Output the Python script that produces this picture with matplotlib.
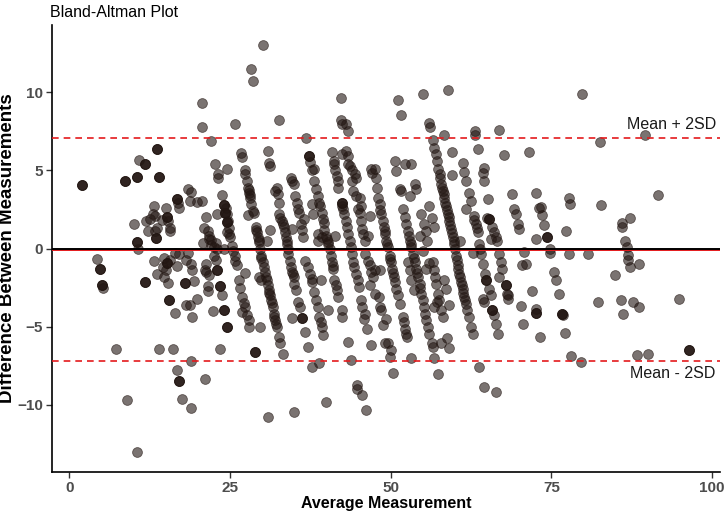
import numpy as np
import matplotlib
matplotlib.use("Agg")
import matplotlib.pyplot as plt

plt.rcParams['font.family'] = ['Liberation Sans', 'DejaVu Sans']

avg = [
    # low averages
    2.0, 8.6, 10.5, 10.9, 11.7, 13.7, 13.9, 20.7, 20.7, 22.0, 22.7, 24.5, 23.1, 23.2, 18.4, 19.0,
    16.7, 16.9, 17.1, 18.7, 19.8, 20.7, 23.7, 24.0, 24.2, 24.6, 22.9, 21.2, 13.1, 15.0, 13.0, 13.3,
    14.4, 15.2, 15.4, 10.0, 12.0, 12.5, 12.3, 13.6, 13.4, 15.6, 15.7, 13.5, 10.5, 20.9, 21.5, 21.8,
    22.0, 20.8, 22.8, 24.5, 10.7, 4.3, 4.7, 5.1, 5.3, 11.8, 13.2, 14.7, 15.2, 15.7, 14.5, 15.0,
    13.7, 14.7, 15.4, 16.4, 17.1, 18.4, 18.1, 16.8, 18.9, 19.1, 18.0, 19.4, 15.5, 16.4, 18.1, 18.8,
    19.9, 19.1, 7.3, 13.9, 16.1, 18.9, 16.7, 17.1, 21.1, 8.9, 17.6, 18.9, 10.5, 23.5, 21.2, 21.1,
    21.7, 21.6, 21.6, 23.4, 23.7, 22.4, 24.1, 24.6, 21.8, 22.0, 22.5, 22.8, 23.0, 24.0, 22.9, 21.2,
    22.5,
    # upper scatter 25-48
    30.2, 28.2, 28.6, 25.8, 32.7, 36.8, 42.2, 42.2, 42.4, 43.0, 43.3, 26.7, 26.9, 30.9, 31.1, 31.3,
    37.35, 37.5, 37.8, 40.8, 41.2, 42.4, 43.1, 43.3, 43.65, 47.0, 47.16,
    # band near 29.7
    27.29, 27.40, 27.65, 27.81, 28.02, 28.17, 28.32, 28.53, 28.69, 27.76, 29.05, 29.2, 29.36, 29.56,
    29.72, 29.87, 30.08, 30.29, 30.49, 30.75, 30.9, 31.0, 31.27, 31.42, 31.63, 31.83, 32.04, 32.3,
    32.56, 32.81, 29.72, 28.84, 33.17, 30.6, 31.1, 31.5, 31.9, 32.2, 27.95, 28.1, 29.1, 29.45, 29.9,
    # band near 25.3
    24.3, 24.56, 24.71, 24.92, 25.07, 25.33, 25.44, 25.74, 25.85, 26.1, 24.9,
    27.4, 26.47, 26.62, 26.88, 27.14, 27.4, 26.88, 27.65, 27.91, 27.91, 29.56, 29.87, 30.75, 31.27,
    34.62,
    # band near 34.1
    32.56, 32.81, 33.07, 33.33, 33.48, 33.69, 33.9, 34.1, 34.36, 34.52, 34.62, 34.88, 35.03, 35.24,
    35.65, 35.9, 36.68, 37.2, 36.17, 34.62, 33.2, 33.8, 34.0, 34.75,
    # band near 36.6
    34.52, 34.62, 34.88, 35.14, 35.55, 35.75, 36.06, 36.27, 36.43, 32.3, 32.45, 32.56, 31.94, 36.68,
    37.1, 37.46, 37.72, 37.82, 38.13, 38.64, 38.9, 39.37, 39.52, 40.3, 37.82, 38.85, 43.3, 43.9,
    46.9, 46.38, 38.4, 39.1, 35.35,
    # band near 40.5
    38.03, 38.13, 38.34, 38.64, 38.85, 39.0, 39.26, 39.42, 39.57, 39.88, 40.09, 40.3, 40.5, 40.71,
    40.91, 41.07, 41.22, 41.43, 41.64, 41.84, 37.72, 37.97, 38.75, 39.16, 41.33, 42.36, 42.46, 39.7,
    40.2, 41.0,
    # band near 43.9
    41.22, 41.33, 41.59, 41.74, 41.84, 42.36, 42.62, 42.77, 42.98, 43.13, 43.39, 43.65, 43.91, 44.17,
    44.53, 44.84, 45.04, 43.39, 43.91, 44.01, 44.42, 44.68, 44.17, 44.68, 45.2, 45.46, 44.94, 45.2,
    45.35, 45.56, 45.71, 45.97, 46.49, 46.75, 46.49, 46.75, 47.0, 47.26, 45.97, 45.46, 45.56, 45.97,
    45.87, 46.75, 38.75, 39.26, 36.58, 43.8, 44.3, 42.5,
    # low tail 30-47
    30.85, 35.0, 40.0, 44.7, 44.8, 45.6, 46.2,
    # upper scatter 50-71
    51.13, 55.05, 58.87, 51.54, 56.03, 56.19, 58.25, 56.55, 63.1, 63.1, 66.87, 63.52, 67.64, 59.49,
    61.19, 61.45, 61.71, 59.49, 64.55, 64.29, 64.55, 68.83, 65.17, 69.19, 69.45, 69.81, 69.97, 70.48,
    70.22, 70.64,
    # band near 60.1
    56.81, 57.07, 57.22, 57.43, 57.74, 57.84, 58.1, 58.36, 58.61, 58.87, 59.13, 59.39, 59.65, 59.9,
    60.16, 60.42, 60.68, 60.94, 61.19, 61.45, 61.71, 62.23, 62.48, 62.74, 57.6, 57.95, 58.25, 58.5,
    58.75, 59.0, 59.25, 59.5, 59.8, 60.0, 60.3, 60.55, 60.8, 61.05, 61.3, 61.6, 61.95,
    # band near 53.2
    51.91, 52.16, 52.42, 52.68, 52.94, 53.2, 53.45, 53.71, 53.97, 54.23, 54.49, 54.74, 55.16, 55.36,
    55.52, 55.78, 56.03, 56.4, 56.55, 52.8, 53.1, 53.6, 54.1, 54.6, 55.0, 50.62, 50.87, 52.16, 53.2,
    51.39, 51.65, 52.94, 53.71, 53.97,
    # band near 49.7
    47.52, 47.78, 47.93, 48.04, 48.29, 48.55, 48.81, 48.96, 49.17, 49.33, 49.58, 49.84, 50.0, 50.2,
    50.51, 50.72, 50.87, 51.13, 51.39, 48.4, 49.05, 49.45, 49.95, 50.35,
    47.52, 48.29, 47.52, 48.14, 48.29, 48.55, 49.33, 48.81, 49.07, 49.58, 50.1, 49.84, 50.36, 51.91,
    52.06, 52.27, 52.42, 52.58, 52.68, 52.94, 53.2, 53.61, 53.2, 56.81, 57.32, 63.77, 57.84, 58.77,
    59.13, 54.74, 55.16, 55.52, 56.03, 56.4, 56.71, 54.49, 55.67, 55.0, 56.55, 56.71, 56.91, 57.07,
    57.32, 57.58, 57.84, 58.1, 58.36, 58.61, 59.13, 57.22, 56.81, 55.52, 56.03, 60.83,
    # band near 63.8
    62.23, 62.48, 62.9, 63.26, 63.52, 63.77, 64.03, 64.29, 64.65, 64.81, 61.71, 62.74, 65.06, 65.32,
    66.09, 66.35, 66.61, 65.84, 65.58, 66.87, 67.13, 67.39, 66.87, 67.9, 68.26, 65.32, 65.58, 64.29,
    64.55, 65.84, 66.09, 66.35, 66.71, 63.0, 63.4, 63.9,
    # high averages
    71.52, 72.65, 72.55, 73.06, 68.16, 68.32, 71.93, 72.55, 73.2, 71.1, 70.74, 64.45, 66.46, 79.77,
    82.61, 89.58, 77.71, 77.86, 73.32, 73.58, 73.89, 74.36, 77.35, 82.77, 91.54, 85.97, 86.07, 87.26,
    86.48, 86.74, 74.72, 74.77, 77.71, 80.7, 86.9, 87.0, 87.31, 88.7, 84.93, 75.39, 75.75, 76.16,
    72.65, 76.68, 76.78, 82.25, 85.81, 86.22, 87.77, 88.65, 94.89, 77.09, 78.12, 79.67, 88.39, 90.09,
    96.49,
]

diff = [
    4.1, 4.3, 4.6, 5.7, 5.4, 6.4, 4.6, 9.3, 7.8, 6.9, 5.4, 5.1, 4.75, 4.5, 3.8, 3.65,
    3.2, 2.9, 2.6, 3.05, 3.0, 3.05, 3.4, 2.8, 2.3, 1.7, 2.2, 2.05, 2.7, 2.6, 2.2, 2.1,
    1.85, 2.0, 1.75, 1.55, 1.75, 1.9, 1.1, 1.3, 1.1, 1.35, 1.1, 0.65, 0.4, 1.3, 1.1, 0.8,
    0.55, 0.35, 0.35, 1.05, 0.0, -0.65, -1.3, -2.3, -2.55, -2.15, -0.8, -0.6, -0.9, -0.7, -1.15, -1.4,
    -1.65, -1.8, -2.2, -0.25, -0.35, -0.25, -0.7, -1.1, -1.0, -1.35, -2.2, -2.05, -3.3, -4.1, -3.6, -3.6,
    -3.2, -4.4, -6.4, -6.4, -6.45, -7.2, -7.8, -8.5, -8.35, -9.7, -9.6, -10.2, -13.0, -6.45, -1.0, -1.4,
    -1.7, -2.4, -2.7, -2.4, -2.95, -4.0, -3.9, -5.0, 0.6, 0.2, -0.45, -0.75, 0.0, 0.0, -1.4, -1.5,
    0.1,
    13.0, 11.5, 10.7, 7.95, 8.25, 7.05, 9.65, 8.25, 7.98, 7.98, 7.5, 6.13, 5.86, 6.24, 5.5, 5.3,
    5.92, 5.56, 5.0, 6.18, 5.39, 6.03, 6.24, 5.92, 5.29, 5.07, 4.86,
    5.01, 4.76, 4.33, 3.91, 3.59, 3.27, 2.84, 2.42, 2.25, 2.14, 1.36, 1.04, 0.72, 0.40,
    -0.02, -0.45, -0.87, -1.19, -1.51, -2.04, -2.36, -2.68, -3.0, -3.31, -3.74, -4.16, -4.59, -5.01,
    -5.65, -6.07, -5.01, -6.6, -6.75, -1.8, -2.85, -3.5, -4.35, -4.8, 3.75, 3.45, 1.2, 0.55, -0.6,
    2.63, 2.21, 1.78, 0.93, 0.72, 0.19, -0.13, -0.45, -0.77, -1.08, 1.3,
    -1.57, -2.04, -2.5, -3.1, -3.48, -3.74, -4.06, -4.27, -4.59, -5.01, -1.83, -2.04, 0.51, 1.21,
    1.25,
    2.21, 1.99, 1.78, 1.36, 1.04, 0.72, 0.3, -0.34, -0.77, -1.19, -1.51, -1.83, -2.25, -2.68,
    -3.42, -3.74, -5.33, -6.29, -4.42, -4.42, 1.55, 0.5, 0.0, -1.65,
    4.54, 4.33, 4.12, 3.38, 2.53, 2.31, 1.57, 1.19, 0.72, 3.91, 3.48, 2.95, 3.69, -0.77,
    -1.19, -1.61, -1.93, -2.14, -2.78, -3.74, -4.37, -5.01, -5.54, -3.95, -7.6, -7.3, -5.97, -7.13,
    -6.18, -5.12, -3.3, -4.7, 2.95,
    5.07, 4.33, 3.8, 3.38, 2.95, 2.74, 2.31, 1.89, 1.61, 0.83, 0.62, 0.3, -0.02, -0.45,
    -0.87, -1.3, -2.04, -2.36, -2.68, -3.1, 2.84, 2.21, 0.51, -2.04, 0.83, -3.95, -4.37, 1.2,
    0.45, -1.1,
    5.6, 5.01, 4.65, 4.33, 3.91, 2.95, 2.53, 2.21, 1.78, 1.36, 0.93, 0.51, -0.34, -0.87,
    -1.61, -2.04, -2.46, 5.39, 5.01, 4.33, 4.75, 4.54, 3.69, 3.38, 3.27, 2.74, 2.53, 2.31,
    1.78, 1.25, 0.93, 0.51, 0.83, 2.1, -0.77, -1.08, -1.51, -1.83, -0.34, -3.31, -3.74, -4.16,
    -4.48, -2.36, 0.93, 0.72, 1.89, 0.1, -1.2, 2.75,
    -10.8, -10.45, -9.8, -8.7, -9.0, -9.4, -10.3,
    9.49, 9.89, 10.17, 8.58, 8.05, 7.77, 7.3, 6.98, 7.52, 7.3, 7.56, 6.39, 5.97, 6.2,
    5.5, 4.92, 4.33, 4.71, 5.14, 4.86, 4.33, 3.52, 3.16, 2.53, 2.21, 1.57, 1.25, -1.08,
    -3.7, -4.8,
    6.45, 6.03, 5.6, 5.07, 4.54, 4.12, 3.69, 3.27, 2.74, 2.21, 1.78, 1.25, 0.72, 0.3,
    -0.45, -1.08, -1.61, -2.14, -2.57, -3.1, -3.53, -4.37, -5.01, -5.44, 4.8, 3.9, 3.5, 2.95,
    2.45, 2.0, 1.5, 1.0, 0.5, 0.0, -0.75, -1.3, -1.85, -2.35, -2.85, -3.3, -3.95,
    2.53, 2.0, 1.57, 1.15, 0.51, 0.08, -0.34, -0.87, -1.3, -1.83, -2.25, -2.89, -3.74, -4.16,
    -4.59, -5.01, -5.44, -6.07, -6.29, 0.8, 0.3, -0.6, -1.55, -2.55, -3.3, 5.6, 4.97, 5.43, 5.43,
    3.8, 3.69, 3.38, 4.12, 3.8,
    5.07, 4.54, 3.91, 3.27, 2.84, 2.21, 1.78, 1.36, 0.93, 0.51, 0.08, -0.45, -0.87, -1.3,
    -1.83, -2.14, -2.57, -2.99, -3.53, 2.5, 1.15, 0.3, -0.65, -1.55,
    -1.4, -1.4, -2.89, -3.1, -3.74, -3.95, -4.48, -4.91, -6.07, -6.07, -6.5, -6.92, -7.94, -4.37,
    -4.69, -5.12, -5.44, -5.65, -0.87, -1.4, -2.04, -2.68, -7.03, -7.03, -8.03, -7.56, -6.07, -5.75,
    -6.39, 2.21, 1.57, 1.15, 2.74, 1.99, 1.36, 0.83, 0.51, -0.13, -0.87, -1.4, -1.83, -2.25,
    -2.89, -3.31, -3.95, -4.37, -2.04, -2.57, -3.63, -3.42, -3.74, -1.3, -0.93, 0.47,
    3.59, 3.06, 2.1, 1.57, 1.04, 0.3, -0.34, -0.98, -1.61, -2.04, 2.53, -0.3, 1.99, 1.89,
    1.04, 0.72, 0.51, 1.36, 0.62, -0.34, -0.87, -1.3, -1.83, -2.36, -2.99, -2.57, -2.99, -3.2,
    -3.42, -3.95, -4.27, -4.8, -5.44, 1.85, 1.3, 0.0,
    6.18, 3.59, 0.61, 2.63, -2.89, -3.21, -2.74, -3.84, -5.65, -0.98, -0.23, -8.87, -9.15, 9.9,
    6.83, 7.24, 3.27, 2.84, 2.67, 2.14, 1.53, 0.76, 1.1, 2.78, 3.42, 1.63, 1.4, 1.95,
    0.51, 0.12, -0.02, -0.3, -0.34, -0.34, -0.38, -0.72, -1.15, -0.98, -1.72, -1.51, -2.04, -2.93,
    -4.12, -4.16, -4.27, -3.42, -3.31, -4.16, -3.42, -3.74, -3.21, -5.39, -6.88, -7.26, -6.84, -6.75,
    -6.52,
]

# observations that sit on top of each other (drawn darker)
tie_avg = [2.0, 8.6, 10.5, 11.7, 13.7, 13.9, 16.7, 24.0, 24.2, 24.6, 15.2, 13.5, 10.5, 4.7, 5.1,
           11.8, 15.2, 18.0, 15.5, 17.1, 23.4, 24.1, 24.6, 22.9, 28.84, 96.49, 74.36, 72.65,
           76.68, 36.17, 37.35, 42.36, 65.32, 64.81, 67.9, 65.84]
tie_diff = [4.1, 4.3, 4.6, 5.4, 6.4, 4.6, 3.2, 2.8, 2.3, 1.7, 2.0, 0.65, 0.4, -1.3, -2.3,
            -2.15, -0.9, -2.2, -3.3, -8.5, -2.4, -3.9, -5.0, -1.4, -6.6, -6.52, 0.76, -4.12,
            -4.16, -4.42, 5.92, 2.95, 1.89, -2.04, -2.36, -3.95]

mean_diff = -0.1
upper_loa = 7.05
lower_loa = -7.2

fig = plt.figure(figsize=(7.27, 5.14), dpi=100)
ax = fig.add_axes([0.0715, 0.0817, 0.9185, 0.8693])

pt_col = '#221612'
ax.scatter(avg, diff, s=50, c=pt_col, alpha=0.6, edgecolors=pt_col, linewidths=0.6, zorder=2)
ax.scatter(tie_avg * 2, tie_diff * 2, s=50, c=pt_col, alpha=0.6, edgecolors=pt_col,
           linewidths=0.6, zorder=2)

red = '#e41a1c'
ax.axhline(mean_diff, color=red, lw=1.4, zorder=3)
ax.axhline(0, color='black', lw=1.4, zorder=4)
ax.axhline(upper_loa, color=red, lw=1.2, dashes=(4, 3), zorder=3)
ax.axhline(lower_loa, color=red, lw=1.2, dashes=(4, 3), zorder=3)

ax.text(100.6, upper_loa + 0.9, 'Mean + 2SD', ha='right', va='center', fontsize=11.5, color='#1a1a1a')
ax.text(100.6, lower_loa - 0.8, 'Mean - 2SD', ha='right', va='center', fontsize=11.5, color='#1a1a1a')

ax.set_xlim(-2.7, 101.2)
ax.set_ylim(-14.3, 14.3)
ax.set_xticks([0, 25, 50, 75, 100])
ax.set_yticks([-10, -5, 0, 5, 10])

for side in ['top', 'right']:
    ax.spines[side].set_visible(False)
for side in ['left', 'bottom']:
    ax.spines[side].set_linewidth(1.2)
    ax.spines[side].set_color('black')
ax.tick_params(length=4, width=1.0, color='#333333', labelcolor='#4d4d4d', labelsize=11, pad=2.5)
for lab in ax.get_xticklabels() + ax.get_yticklabels():
    lab.set_fontweight('bold')

ax.set_xlabel('Average Measurement', fontsize=11.5, fontweight='bold', labelpad=1)
ax.set_ylabel('Difference Between Measurements', fontsize=13.5, fontweight='bold', labelpad=1)
ax.set_title('Bland-Altman Plot', loc='left', fontsize=11.5, pad=6, x=-0.003)

fig.savefig('out.png', dpi=100)
